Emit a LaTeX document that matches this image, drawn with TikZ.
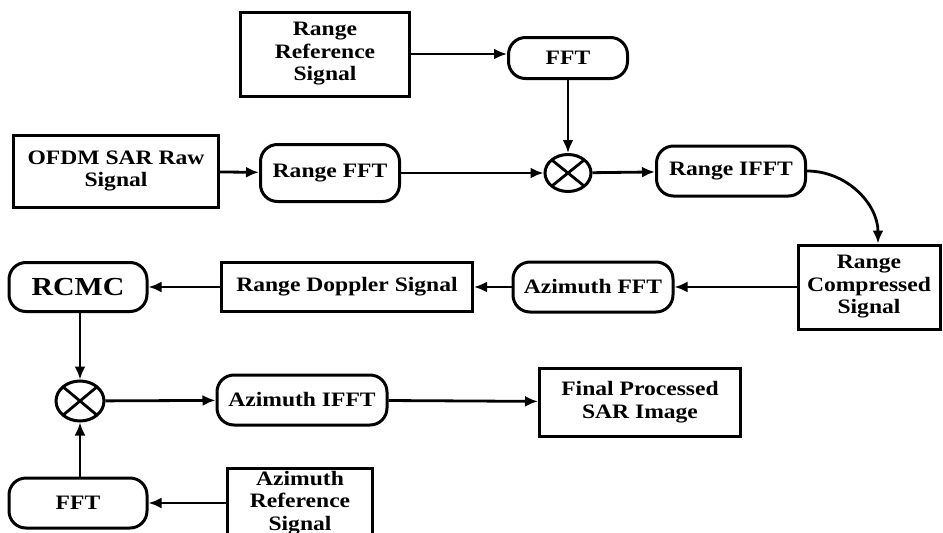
\documentclass[tikz,border=0pt]{standalone}
\usepackage{fontspec}
\setmainfont{Liberation Serif}[FakeStretch=1.15]
\usetikzlibrary{arrows.meta,shapes.geometric}

\tikzset{
  plainBox/.style={draw, line width=3pt, align=center, inner sep=0pt,
    font=\fontsize{20.5}{22.5}\selectfont\bfseries},
  roundBox/.style={plainBox, rounded corners=17pt},
  mixer/.style={draw, ellipse, line width=3pt, minimum width=46pt, minimum height=37pt,
    inner sep=0pt,
    path picture={\draw[line width=2.8pt] (path picture bounding box.north west) -- (path picture bounding box.south east)
      (path picture bounding box.north east) -- (path picture bounding box.south west);}},
  flow/.style={line width=2.8pt, -{Latex[length=13pt, width=11pt]}}
}

\begin{document}
\begin{tikzpicture}[x=1pt, y=1pt]
        \clip (0,0) rectangle (943,-533);
        % range line
        \node[plainBox, minimum width=169, minimum height=84] (rangeRef) at (325,-54) {Range\\Reference\\Signal};
        \node[roundBox, minimum width=119, minimum height=41] (fftTop) at (568,-58) {FFT};
        \node[mixer] (mixTop) at (568,-173) {};
        \node[plainBox, minimum width=205, minimum height=72] (rawSignal) at (116,-171) {OFDM SAR Raw\\Signal};
        \node[roundBox, minimum width=139, minimum height=57] (rangeFft) at (330,-173) {Range FFT};
        \node[roundBox, minimum width=149, minimum height=50] (rangeIfft) at (731,-171) {Range IFFT};
        \node[plainBox, minimum width=142, minimum height=84] (rangeComp) at (869,-287) {Range\\Compressed\\Signal};
        % azimuth line
        \node[roundBox, minimum width=160, minimum height=50] (azFft) at (593,-287) {Azimuth FFT};
        \node[plainBox, minimum width=251, minimum height=49] (rangeDoppler) at (347,-287) {Range Doppler Signal};
        \node[roundBox, minimum width=138, minimum height=49, font=\fontsize{26}{28}\selectfont\bfseries] (rcmc) at (78,-287) {RCMC};
        \node[mixer, minimum width=48pt, minimum height=40pt] (mixBottom) at (80,-401) {};
        \node[roundBox, minimum width=170, minimum height=50] (azIfft) at (302,-400) {Azimuth IFFT};
        \node[plainBox, minimum width=201, minimum height=68] (finalImage) at (640,-402) {Final Processed\\SAR Image};
        \node[roundBox, minimum width=138, minimum height=50] (fftBottom) at (78,-503) {FFT};
        \node[plainBox, minimum width=145, minimum height=70] (azRef) at (300,-503) {Azimuth\\Reference\\Signal};

        \draw[flow] (rangeRef.east) -- (rangeRef.east -| fftTop.west);
        \draw[flow] (fftTop) -- (mixTop);
        \draw[flow] (rawSignal) -- (rangeFft);
        \draw[flow] (rangeFft) -- (mixTop);
        \draw[flow] (mixTop) -- (rangeIfft);
        \draw[flow] (rangeIfft.east) to[out=0, in=90] ([xshift=9pt]rangeComp.north);
        \draw[flow] (rangeComp) -- (azFft);
        \draw[flow] (azFft) -- (rangeDoppler);
        \draw[flow] (rangeDoppler) -- (rcmc);
        \draw[flow] (rcmc.south -| mixBottom) -- (mixBottom);
        \draw[flow] (mixBottom) -- (azIfft);
        \draw[flow] (azIfft) -- (finalImage);
        \draw[flow] (azRef) -- (fftBottom);
        \draw[flow] (fftBottom.north -| mixBottom) -- (mixBottom);
      \end{tikzpicture}
\end{document}
